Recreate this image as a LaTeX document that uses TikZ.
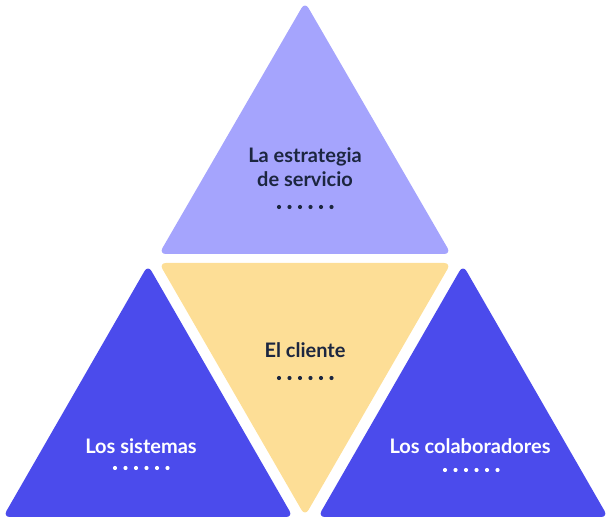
\documentclass[tikz,border=0pt]{standalone}
\usepackage{fontspec}
\setmainfont{Lato}
\definecolor{topc}{HTML}{A5A4FD}
\definecolor{midc}{HTML}{FDDE96}
\definecolor{bluec}{HTML}{4B4BEC}
\definecolor{navy}{HTML}{1C2640}
\tikzset{
  tri/.style={rounded corners=7pt},
  lbl/.style={font=\fontsize{20}{23.5}\selectfont\bfseries, align=center, inner sep=0pt}
}
\newcommand{\dotline}[3]{% x y color
  \foreach \i in {0,...,5} {\fill[#3] (#1+\i*10.5, #2) circle (2.1);}
}
\begin{document}
\begin{tikzpicture}[x=1pt,y=-1pt]
\useasboundingbox (0,0) rectangle (611,518);
% top
\fill[topc,tri] (305,2) -- (451,254) -- (159,254) -- cycle;
% middle
\fill[midc,tri] (159,263) -- (451,263) -- (305,516) -- cycle;
% left
\fill[bluec,tri] (148,265) -- (293,517) -- (3,517) -- cycle;
% right
\fill[bluec,tri] (463,265) -- (608,517) -- (318,517) -- cycle;

\node[lbl,text=navy] (strat) at (305,167) {La estrategia\\de servicio};
\node[lbl,text=navy] (cli) at (305,350) {El cliente};
\node[lbl,text=white] (sis) at (141,446) {Los sistemas};
\node[lbl,text=white] (col) at (470,446) {Los colaboradores};

\dotline{279}{207}{navy}
\dotline{279}{378}{navy}
\dotline{115}{468}{white}
\dotline{445}{470}{white}
\end{tikzpicture}
\end{document}
